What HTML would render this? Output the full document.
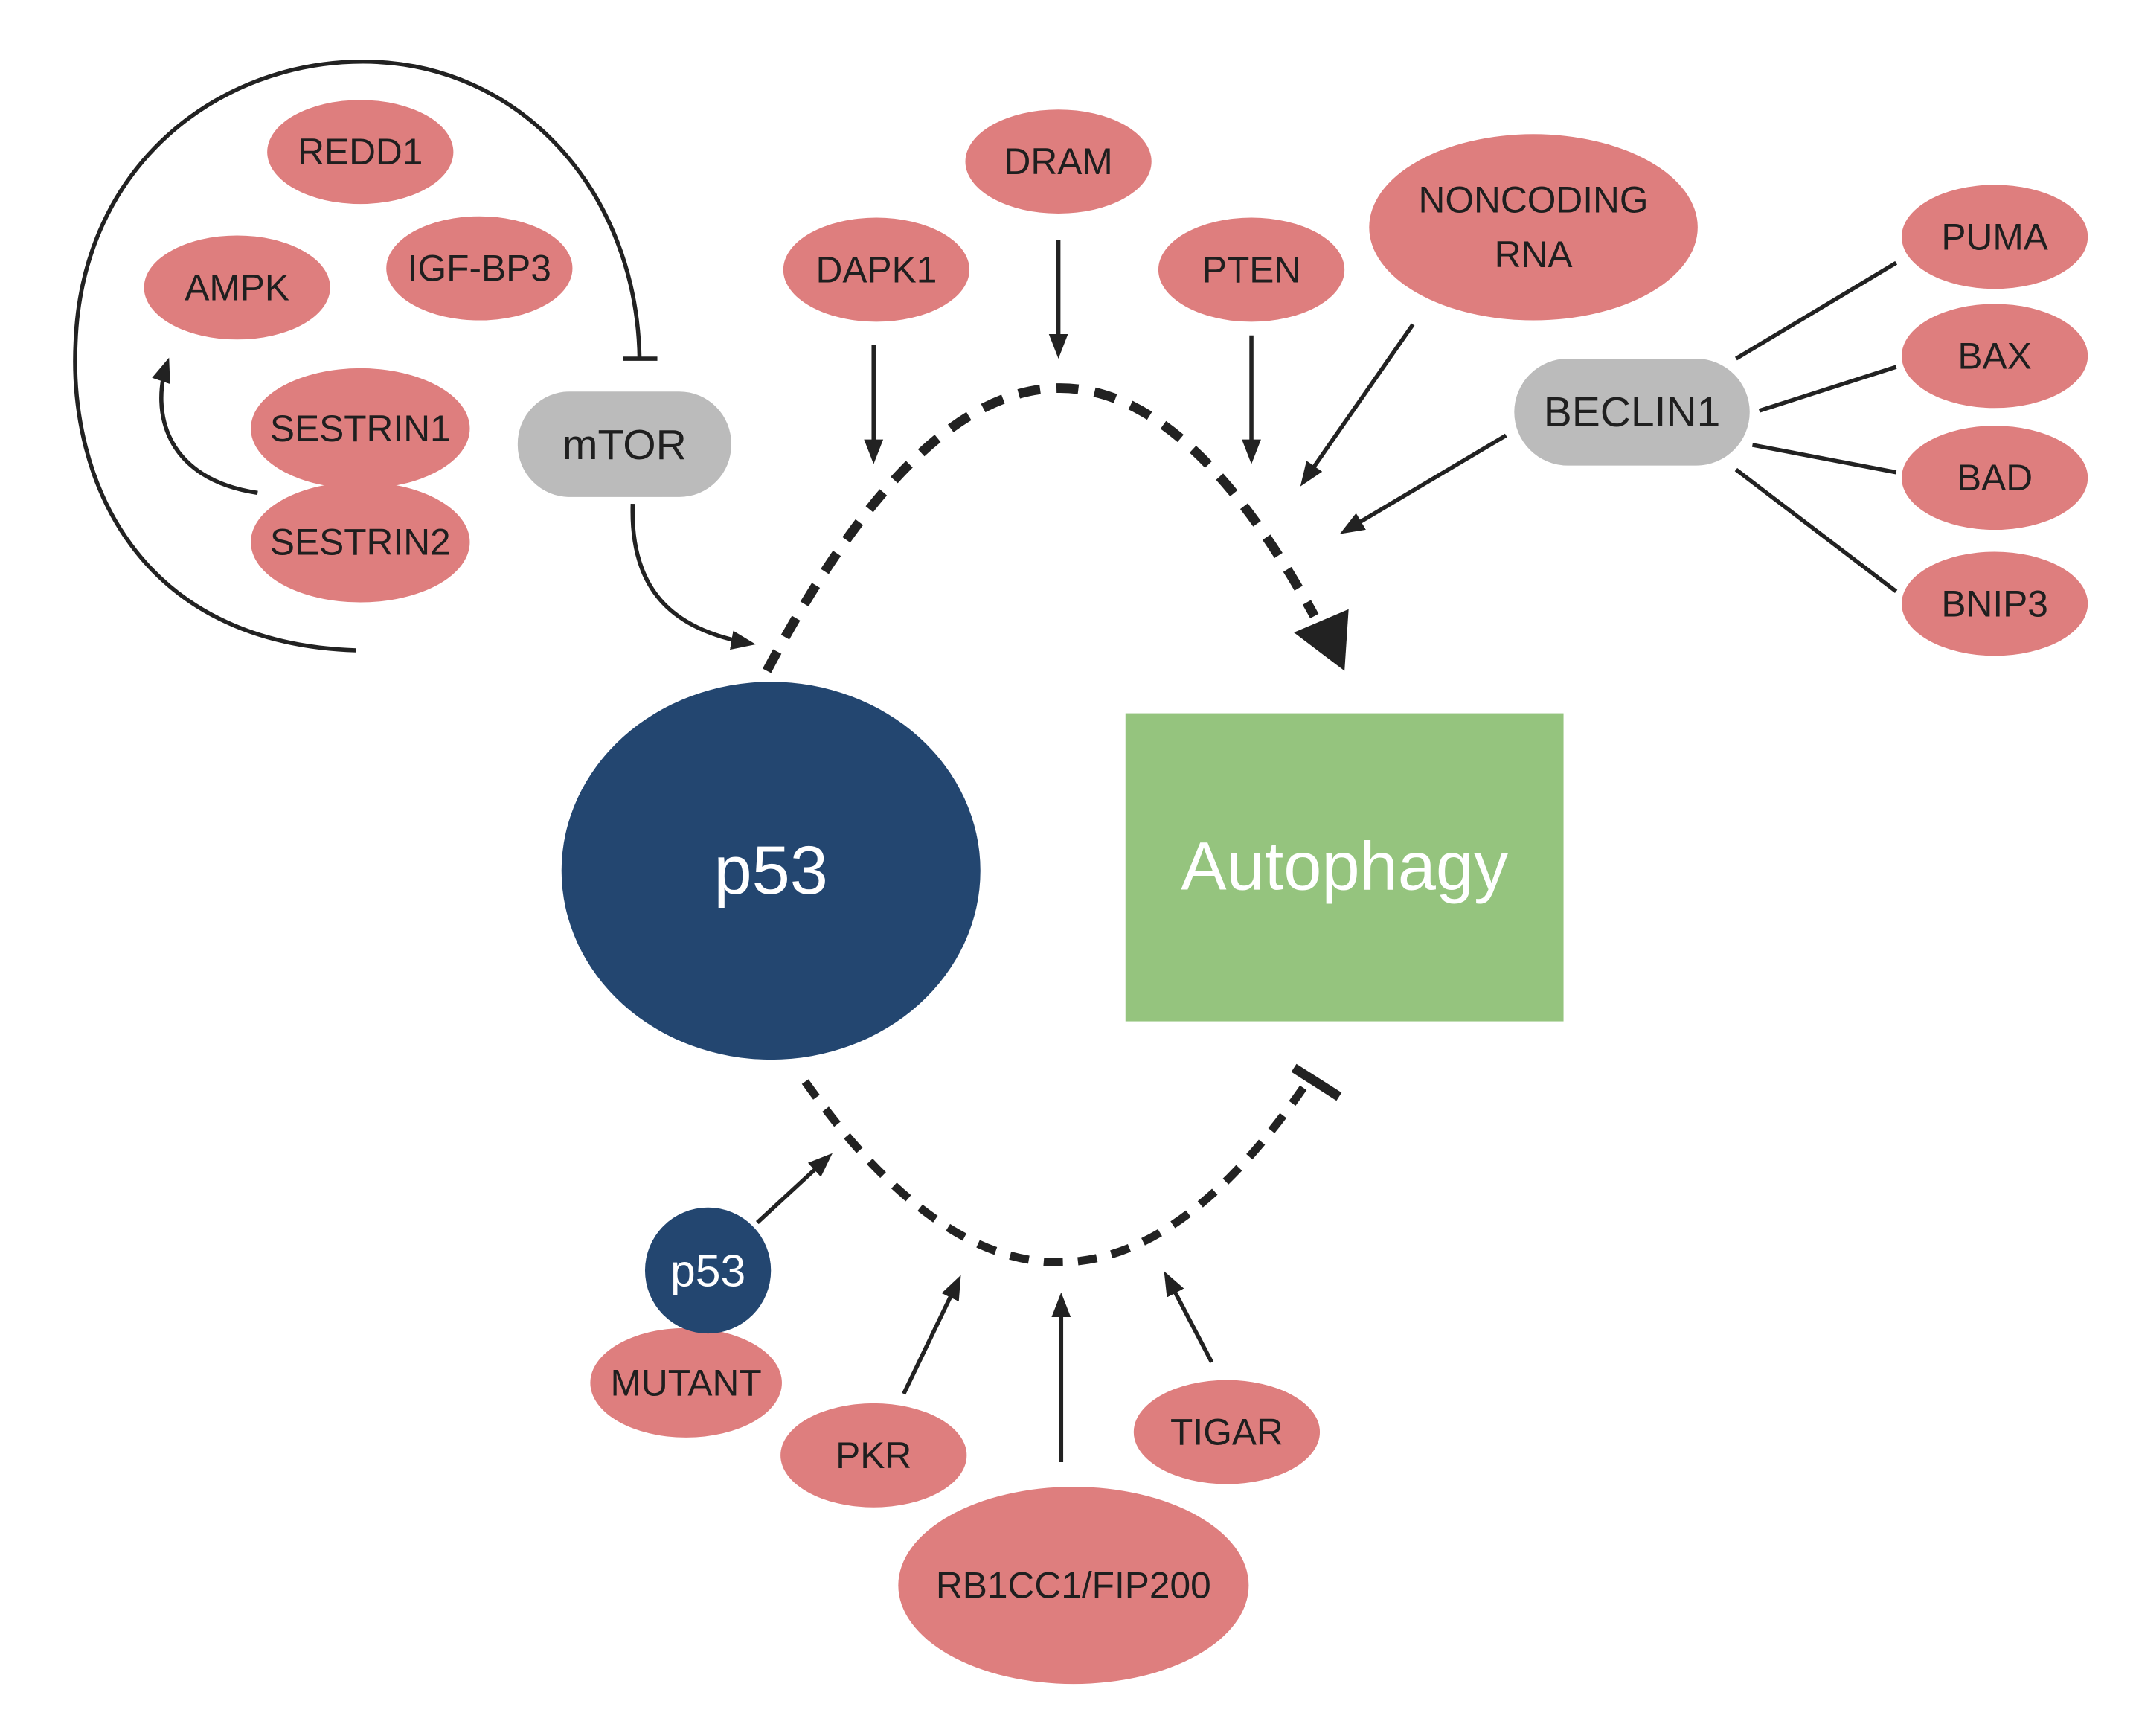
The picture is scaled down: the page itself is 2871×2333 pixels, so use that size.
<!DOCTYPE html>
<html><head><meta charset="utf-8"><style>
html,body{margin:0;padding:0;background:#fff}
svg{display:block}
text{font-family:"Liberation Sans",sans-serif;fill:#1f1f1f;text-anchor:middle;dominant-baseline:central}
</style></head><body>
<svg width="2871" height="2333" viewBox="0 0 1560 1268" xmlns="http://www.w3.org/2000/svg">
<defs>
<marker id="ah" markerWidth="10" markerHeight="10" refX="8" refY="5" orient="auto" markerUnits="userSpaceOnUse" viewBox="0 0 10 10">
<path d="M0,0 L10,5 L0,10 z" fill="#222"/></marker>
<marker id="ah2" markerWidth="18" markerHeight="18" refX="14" refY="9" orient="auto" markerUnits="userSpaceOnUse" viewBox="0 0 18 18">
<path d="M0,2 L18,9 L0,16 z" fill="#222"/></marker>
</defs>
<g fill="none" stroke="#222" stroke-width="3">
<path d="M260,475 C100,470 50,350 55,250 C60,120 160,45 265,45 C380,45 465,140 467,262"/>
<line x1="455" y1="262" x2="480" y2="262"/>
<path d="M188,360 C120,350 110,300 122,265" marker-end="url(#ah2)"/>
<path d="M462,368 C460,430 490,460 548,470" marker-end="url(#ah2)"/>
<line x1="638" y1="252" x2="638" y2="335" marker-end="url(#ah2)"/>
<line x1="773" y1="175" x2="773" y2="258" marker-end="url(#ah2)"/>
<line x1="914" y1="245" x2="914" y2="335" marker-end="url(#ah2)"/>
<line x1="1032" y1="237" x2="952" y2="352" marker-end="url(#ah2)"/>
<line x1="1100" y1="318" x2="982" y2="388" marker-end="url(#ah2)"/>
<line x1="1268" y1="262" x2="1385" y2="192"/>
<line x1="1285" y1="300" x2="1385" y2="268"/>
<line x1="1280" y1="325" x2="1385" y2="345"/>
<line x1="1268" y1="343" x2="1385" y2="432"/>
<line x1="553" y1="893" x2="605" y2="845" marker-end="url(#ah2)"/>
<line x1="660" y1="1018" x2="700" y2="935" marker-end="url(#ah2)"/>
<line x1="775" y1="1068" x2="775" y2="948" marker-end="url(#ah2)"/>
<line x1="885" y1="995" x2="852" y2="932" marker-end="url(#ah2)"/>
<path d="M560,490 Q767,98 960,450" stroke-width="7" stroke-dasharray="16,12"/>
<path d="M588,790 Q775,1054 955,790" stroke-width="6" stroke-dasharray="14,11"/>
<line x1="945" y1="780" x2="978" y2="801" stroke-width="7"/>
</g>
<path d="M945,462 L985,445 L982,490 z" fill="#222"/>
<g fill="#de7e7e">
<ellipse cx="263" cy="111" rx="68" ry="38"/>
<ellipse cx="173" cy="210" rx="68" ry="38"/>
<ellipse cx="350" cy="196" rx="68" ry="38"/>
<ellipse cx="263" cy="313" rx="80" ry="44"/>
<ellipse cx="263" cy="396" rx="80" ry="44"/>
<ellipse cx="640" cy="197" rx="68" ry="38"/>
<ellipse cx="773" cy="118" rx="68" ry="38"/>
<ellipse cx="914" cy="197" rx="68" ry="38"/>
<ellipse cx="1120" cy="166" rx="120" ry="68"/>
<ellipse cx="1457" cy="173" rx="68" ry="38"/>
<ellipse cx="1457" cy="260" rx="68" ry="38"/>
<ellipse cx="1457" cy="349" rx="68" ry="38"/>
<ellipse cx="1457" cy="441" rx="68" ry="38"/>
<ellipse cx="501" cy="1010" rx="70" ry="40"/>
<ellipse cx="638" cy="1063" rx="68" ry="38"/>
<ellipse cx="784" cy="1158" rx="128" ry="72"/>
<ellipse cx="896" cy="1046" rx="68" ry="38"/>
</g>
<rect x="378" y="286" width="156" height="77" rx="38" fill="#bbbbbb"/>
<rect x="1106" y="262" width="172" height="78" rx="39" fill="#bbbbbb"/>
<ellipse cx="563" cy="636" rx="153" ry="138" fill="#234670"/>
<rect x="822" y="521" width="320" height="225" fill="#95c47e"/>
<circle cx="517" cy="928" r="46" fill="#234670"/>
<g font-size="27">
<text x="263" y="111">REDD1</text>
<text x="173" y="210">AMPK</text>
<text x="350" y="196">IGF-BP3</text>
<text x="263" y="313">SESTRIN1</text>
<text x="263" y="396">SESTRIN2</text>
<text x="456" y="325" font-size="31">mTOR</text>
<text x="640" y="197">DAPK1</text>
<text x="773" y="118">DRAM</text>
<text x="914" y="197">PTEN</text>
<text x="1120" y="146">NONCODING</text>
<text x="1120" y="186">RNA</text>
<text x="1192" y="301" font-size="31">BECLIN1</text>
<text x="1457" y="173">PUMA</text>
<text x="1457" y="260">BAX</text>
<text x="1457" y="349">BAD</text>
<text x="1457" y="441">BNIP3</text>
<text x="501" y="1010">MUTANT</text>
<text x="638" y="1063">PKR</text>
<text x="784" y="1158">RB1CC1/FIP200</text>
<text x="896" y="1046">TIGAR</text>
</g>
<text x="563" y="636" font-size="50" style="fill:#fff">p53</text>
<text x="982" y="633" font-size="50" style="fill:#fff">Autophagy</text>
<text x="517" y="928" font-size="33" style="fill:#fff">p53</text>
</svg>
</body></html>
